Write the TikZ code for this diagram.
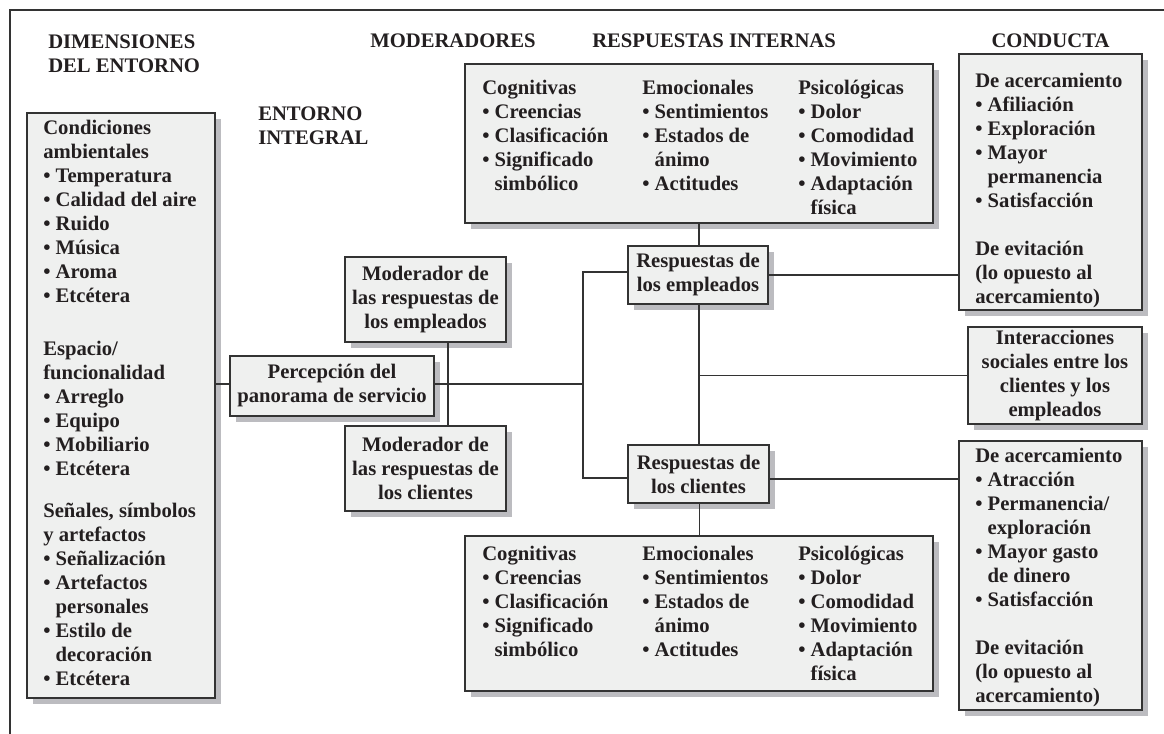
\documentclass[tikz,border=0pt]{standalone}
\usepackage{fontspec}
\setmainfont{Liberation Serif}
\usetikzlibrary{shadows,fit}
\definecolor{boxfill}{HTML}{EFF0EF}
\definecolor{shadowc}{HTML}{BCBCC0}
\definecolor{linec}{HTML}{333333}
\definecolor{txtc}{HTML}{231F20}
\newcommand\bu{\textbullet\ }
\newcommand\ind{\hphantom{\textbullet\ }}
\newcommand\mfont{\fontsize{15.5}{18}\selectfont\bfseries}
\begin{document}
\begin{tikzpicture}[x=0.75pt,y=-0.75pt,
  box/.style={draw=linec, line width=1pt, fill=boxfill, inner sep=0pt,
    drop shadow={shadow xshift=4.5pt, shadow yshift=-4.5pt, fill=shadowc, opacity=1}},
  txt/.style={anchor=north west, inner sep=0pt, align=left, font=\mfont, text=txtc},
  ctxt/.style={anchor=center, inner sep=0pt, align=center, font=\mfont, text=txtc},
  hdr/.style={anchor=base west, inner sep=0pt, font=\mfont, text=txtc},
  conn/.style={draw=linec, line width=0.9pt}]
\useasboundingbox (0,0) rectangle (1164,734);
\fill[white] (0,0) rectangle (1164,734);
% frame
\coordinate (fr1) at (1164,10);
\coordinate (fr2) at (10,10);
\coordinate (fr3) at (10,734);
\draw[linec, line width=1.7pt] (fr1) -- (fr2) -- (fr3);

% boxes
\node[box, fit={(27,113) (215,698)}] (lb) {};
\node[box, fit={(230,356) (434,416)}] (pc) {};
\node[box, fit={(345,257) (506,342)}] (me) {};
\node[box, fit={(345,426) (506,511)}] (mc) {};
\node[box, fit={(628,246) (768,304)}] (re) {};
\node[box, fit={(628,445) (769,503)}] (rc) {};
\node[box, fit={(465,64) (933,223)}] (ti) {};
\node[box, fit={(465,536) (933,691)}] (bi) {};
\node[box, fit={(959,54) (1142,310)}] (ct) {};
\node[box, fit={(968,327) (1142,424)}] (si) {};
\node[box, fit={(959,441) (1142,710)}] (cb) {};

% headers
\node[txt] (h1) at (48,31.2) {\strut DIMENSIONES\\DEL ENTORNO};
\node[hdr] (h2) at (370,48) {MODERADORES};
\node[hdr] (h3) at (592,48) {RESPUESTAS INTERNAS};
\node[hdr, anchor=base] (h4) at (ct.center |- 0,48) {CONDUCTA};
\node[txt] (h5) at (258,103.2) {\strut ENTORNO\\INTEGRAL};

% centred box texts
\node[ctxt] (pct) at (pc.center) {Percepción del\\panorama de servicio};
\node[ctxt] (met) at (me.center) {Moderador de\\las respuestas de\\los empleados};
\node[ctxt] (mct) at (mc.center) {Moderador de\\las respuestas de\\los clientes};
\node[ctxt] (ret) at (re.center) {Respuestas de\\los empleados};
\node[ctxt] (rct) at (rc.center) {Respuestas de\\los clientes};
\node[ctxt] (sit) at (si.center) {Interacciones\\sociales entre los\\clientes y los\\empleados};

% left box text
\node[txt] (lt1) at (43,117.2) {\strut Condiciones\\ambientales\\\bu Temperatura\\\bu Calidad del aire\\\bu Ruido\\\bu Música\\\bu Aroma\\\bu Etcétera};
\node[txt] (lt2) at (43,338.2) {\strut Espacio/\\funcionalidad\\\bu Arreglo\\\bu Equipo\\\bu Mobiliario\\\bu Etcétera};
\node[txt] (lt3) at (43,500.2) {\strut Señales, símbolos\\y artefactos\\\bu Señalización\\\bu Artefactos\\\ind personales\\\bu Estilo de\\\ind decoración\\\bu Etcétera};

% top internal box text
\node[txt] (tc1) at (482,77.2) {\strut Cognitivas\\\bu Creencias\\\bu Clasificación\\\bu Significado\\\ind simbólico};
\node[txt] (tc2) at (642,77.2) {\strut Emocionales\\\bu Sentimientos\\\bu Estados de\\\ind ánimo\\\bu Actitudes};
\node[txt] (tc3) at (798,77.2) {\strut Psicológicas\\\bu Dolor\\\bu Comodidad\\\bu Movimiento\\\bu Adaptación\\\ind física};

% bottom internal box text
\node[txt] (bc1) at (482,543.2) {\strut Cognitivas\\\bu Creencias\\\bu Clasificación\\\bu Significado\\\ind simbólico};
\node[txt] (bc2) at (642,543.2) {\strut Emocionales\\\bu Sentimientos\\\bu Estados de\\\ind ánimo\\\bu Actitudes};
\node[txt] (bc3) at (798,543.2) {\strut Psicológicas\\\bu Dolor\\\bu Comodidad\\\bu Movimiento\\\bu Adaptación\\\ind física};

% conducta texts
\node[txt] (ctt) at (975,70.2) {\strut De acercamiento\\\bu Afiliación\\\bu Exploración\\\bu Mayor\\\ind permanencia\\\bu Satisfacción\\[18pt]De evitación\\(lo opuesto al\\acercamiento)};
\node[txt] (cbt) at (975,445.2) {\strut De acercamiento\\\bu Atracción\\\bu Permanencia/\\\ind exploración\\\bu Mayor gasto\\\ind de dinero\\\bu Satisfacción\\[18pt]De evitación\\(lo opuesto al\\acercamiento)};

% connectors
\coordinate (vx) at (448,384);
\coordinate (j1) at (583,384);
\draw[conn] (lb.east |- vx) -- (pc.west |- vx);
\draw[conn] (pc.east |- vx) -- (j1);
\draw[conn] (me.south -| vx) -- (mc.north -| vx);
\draw[conn] ([shift={(0,-3)}]re.west) -| (j1) |- ([shift={(0,4)}]rc.west);
\draw[conn] (re.east) -- (re.east -| ct.west);
\draw[conn] ([shift={(0,5)}]rc.east) -- ([shift={(0,5)}]rc.east -| cb.west);
\draw[conn] ([xshift=0.75pt]re.north) -- ([xshift=0.75pt]re.north |- ti.south);
\draw[conn] ([xshift=0.75pt]re.south) -- ([xshift=0.75pt]re.south |- rc.north);
\draw[conn] ([xshift=0.75pt]re.south |- si.west) -- (si.west);
\draw[conn] ([xshift=0.75pt]rc.south) -- ([xshift=0.75pt]rc.south |- bi.north);
\end{tikzpicture}
\end{document}
